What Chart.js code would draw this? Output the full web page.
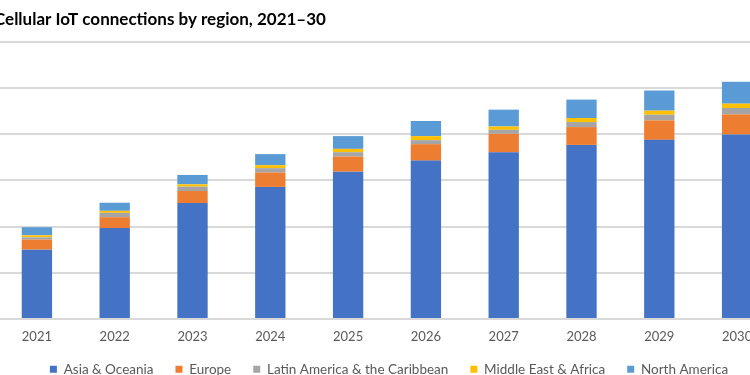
<!DOCTYPE html>
<html>
<head>
<meta charset="utf-8">
<script src="https://cdn.jsdelivr.net/npm/chart.js@4.4.0/dist/chart.umd.min.js"></script>
<style>
  html, body { margin: 0; padding: 0; background: #fff; overflow: hidden; }
  #wrap { position: absolute; left: -10px; top: 0; width: 800px; height: 402px; }
</style>
</head>
<body>
<div id="wrap"><canvas id="iotChart"></canvas></div>
<script>
// connections, millions
const years = ['2021', '2022', '2023', '2024', '2025', '2026', '2027', '2028', '2029', '2030'];
const asiaOceania = [1500, 1970, 2510, 2860, 3190, 3430, 3610, 3770, 3880, 3995];
const europe      = [218, 234, 262, 312, 328, 356, 400, 386, 421, 437];
const latinAm     = [50, 94, 94, 94, 94, 87, 87, 109, 124, 138];
const middleEast  = [44, 44, 50, 65, 72, 87, 72, 87, 87, 94];
const northAm     = [175, 175, 203, 240, 277, 328, 365, 400, 437, 474];

const ctx = document.getElementById('iotChart').getContext('2d');

const makeSet = (label, data, color) => ({
    label: label,
    data: data,
    backgroundColor: color,
    borderWidth: 0,
    barPercentage: 0.39,
    categoryPercentage: 1
});

// nudge the legend up/right so it sits like the original
const legendNudge = {
    id: 'legendNudge',
    afterLayout(chart) {
        const lg = chart.legend;
        lg.top -= 14; lg.bottom -= 14;
        lg.left += 4; lg.right += 4;
    }
};

const iotChart = new Chart(ctx, {
    type: 'bar',
    data: {
        labels: years,
        datasets: [
            makeSet('Asia & Oceania', asiaOceania, '#4472C4'),
            makeSet('Europe', europe, '#ED7D31'),
            makeSet('Latin America & the Caribbean', latinAm, '#A5A5A5'),
            makeSet('Middle East & Africa', middleEast, '#FFC000'),
            makeSet('North America', northAm, '#5B9BD5')
        ]
    },
    options: {
        responsive: true,
        maintainAspectRatio: false,
        animation: false,
        layout: {
            padding: { left: 4, right: 14, top: 0, bottom: 2 }
        },
        plugins: {
            title: {
                display: true,
                text: 'Cellular IoT connections by region, 2021–30',
                align: 'start',
                color: '#000',
                font: { family: 'Lato', size: 17, weight: 'bold' },
                padding: { top: 9, bottom: 12.6 }
            },
            legend: {
                position: 'bottom',
                labels: {
                    boxWidth: 7,
                    boxHeight: 7,
                    padding: 22,
                    color: '#595959',
                    font: { family: 'Lato', size: 13.5 }
                }
            },
            tooltip: { enabled: false }
        },
        scales: {
            x: {
                stacked: true,
                grid: { display: false, drawTicks: false },
                border: { display: false },
                ticks: {
                    color: '#595959',
                    padding: 10,
                    font: { family: 'Lato', size: 13 }
                }
            },
            y: {
                stacked: true,
                min: 0,
                max: 6000,
                grid: { color: '#d9d9d9', lineWidth: 2, drawTicks: false },
                border: { display: false },
                ticks: { display: false, stepSize: 1000 },
                afterFit: (scale) => { scale.width = 4; }
            }
        }
    },
    plugins: [legendNudge]
});
</script>
</body>
</html>
